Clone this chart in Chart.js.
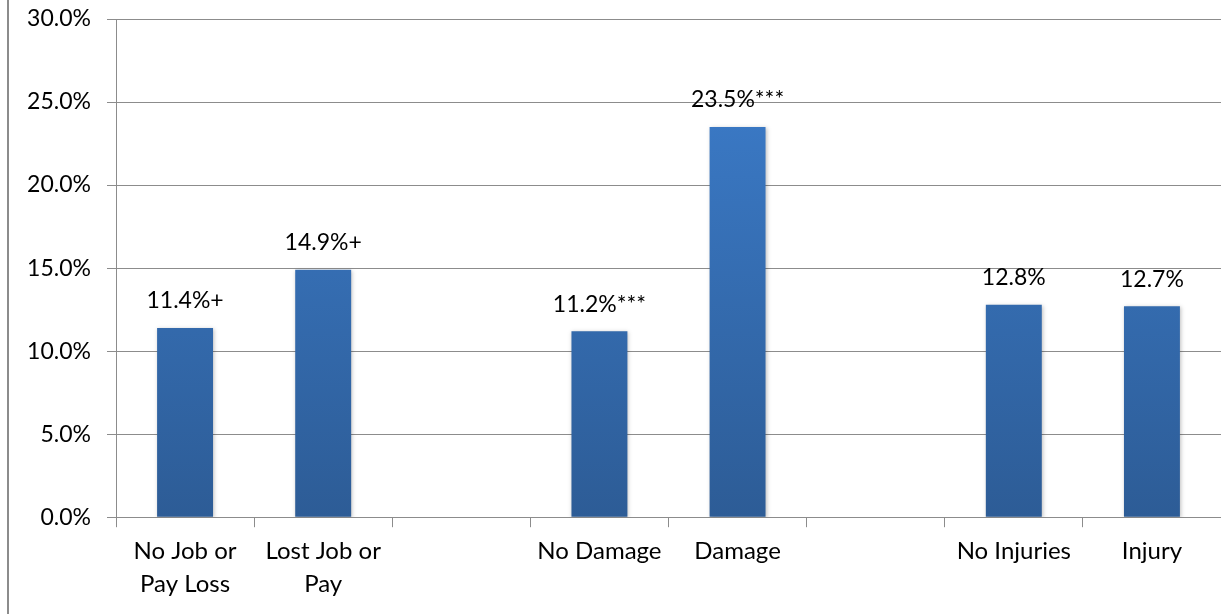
<!DOCTYPE html>
<html>
<head>
<meta charset="utf-8">
<script src="https://cdn.jsdelivr.net/npm/chart.js@4.4.0/dist/chart.umd.min.js"></script>
<style>
  html, body { margin: 0; padding: 0; background: #fff; }
  #wrap { width: 1221px; height: 614px; position: relative; }
</style>
</head>
<body>
<div id="wrap"><canvas id="myChart"></canvas></div>
<script>
// categories (blank slots separate the three groups)
var categorias = [['No Job or', 'Pay Loss'], ['Lost Job or', 'Pay'], '', 'No Damage', 'Damage', '', 'No Injuries', 'Injury'];
var valores = [11.4, 14.9, null, 11.2, 23.5, null, 12.8, 12.7];
var sufixos = ['+', '+', '', '***', '***', '', '', ''];
var ticksY = [0, 5, 10, 15, 20, 25, 30];

var fonte = 'Lato, "Open Sans", sans-serif';
var cinza = '#8c8c8c';

// label above each bar + left frame line
var rotulos = {
  id: 'rotulos',
  beforeDatasetsDraw: function(chart) {
    var ctx = chart.ctx;
    ctx.save();
    ctx.shadowColor = 'rgba(0,0,0,0.25)';
    ctx.shadowBlur = 4;
    ctx.shadowOffsetX = 1;
    ctx.shadowOffsetY = 1;
  },
  afterDatasetsDraw: function(chart) {
    var ctx = chart.ctx;
    ctx.restore();
    ctx.save();
    ctx.font = '23px ' + fonte;
    ctx.fillStyle = '#000';
    ctx.textAlign = 'center';
    ctx.textBaseline = 'middle';
    chart.getDatasetMeta(0).data.forEach(function(bar, i) {
      if (valores[i] == null) return;
      ctx.fillText(valores[i].toFixed(1) + '%' + sufixos[i], bar.x, bar.y - 27);
    });
    ctx.restore();
  },
  afterDraw: function(chart) {
    var ctx = chart.ctx;
    ctx.save();
    ctx.strokeStyle = cinza;
    ctx.lineWidth = 2;
    ctx.beginPath();
    ctx.moveTo(8, 0);
    ctx.lineTo(8, chart.height);
    ctx.stroke();
    ctx.restore();
  }
};

function graficoBarras() {
  var ctx = document.getElementById('myChart').getContext('2d');
  new Chart(ctx, {
    type: 'bar',
    data: {
      labels: categorias,
      datasets: [{
        data: valores,
        backgroundColor: function(c) {
          var area = c.chart.chartArea;
          if (!area) return '#3a78c4';
          var g = c.chart.ctx.createLinearGradient(0, area.top, 0, area.bottom);
          g.addColorStop(0, '#3d7fcf');
          g.addColorStop(1, '#2d5c96');
          return g;
        },
        borderWidth: 0,
        barPercentage: 0.405,
        categoryPercentage: 1
      }]
    },
    options: {
      responsive: true,
      maintainAspectRatio: false,
      animation: false,
      layout: { padding: { top: 19, right: 0, bottom: 6, left: 0 } },
      plugins: { legend: { display: false }, tooltip: { enabled: false } },
      scales: {
        x: {
          afterFit: function(s) { s.paddingLeft = 0; s.paddingRight = 0; },
          grid: { drawOnChartArea: false, drawTicks: true, tickLength: 10, color: cinza, offset: true },
          border: { color: cinza, width: 1 },
          ticks: { color: '#000', font: { family: fonte, size: 24, lineHeight: 1.35 }, maxRotation: 0, autoSkip: false, padding: 8 }
        },
        y: {
          min: 0,
          max: 30,
          afterBuildTicks: function(s) { s.ticks = ticksY.map(function(v) { return { value: v }; }); },
          afterFit: function(s) { s.width = 116; s.paddingTop = 0; s.paddingBottom = 0; },
          grid: { color: cinza, tickLength: 9 },
          border: { color: cinza, width: 1 },
          ticks: {
            color: '#000',
            font: { family: fonte, size: 23 },
            padding: 16,
            callback: function(v) { return v.toFixed(1) + '%'; }
          }
        }
      }
    },
    plugins: [rotulos]
  });
}

graficoBarras();
</script>
</body>
</html>
